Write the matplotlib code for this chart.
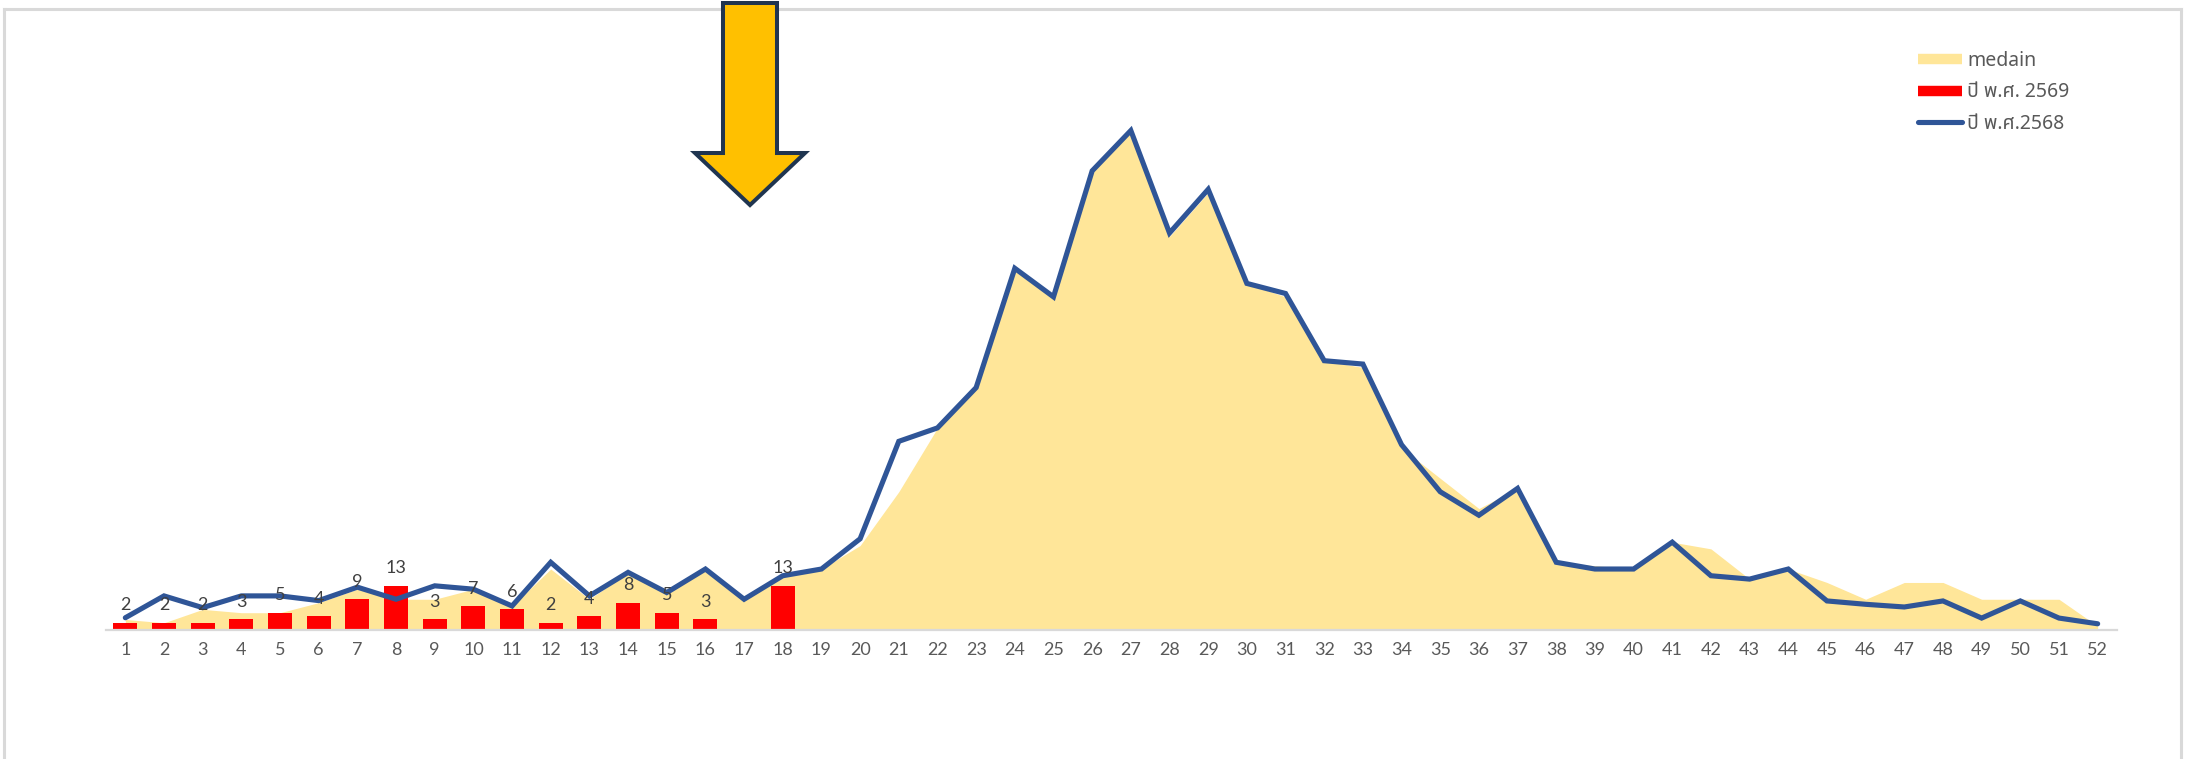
import matplotlib
matplotlib.use("Agg")
import matplotlib.pyplot as plt
import numpy as np
from matplotlib import font_manager as fm
from matplotlib.ft2font import FT2Font
from matplotlib.lines import Line2D
from matplotlib.patches import Polygon

# ---------------- data ----------------
weeks = list(range(1, 53))
median = [3, 2, 6, 5, 5, 8, 12, 9, 9, 12, 7, 18, 9, 17, 11, 18, 9, 16, 18, 25,
          41, 60, 72, 107, 99, 136, 148, 117, 130, 103, 99, 80, 78, 54, 45, 36,
          42, 20, 19, 18, 26, 24, 15, 18, 14, 9, 14, 14, 9, 9, 9, 1]
y2569 = [2, 2, 2, 3, 5, 4, 9, 13, 3, 7, 6, 2, 4, 8, 5, 3, None, 13]
y2568 = [3.5, 10, 6.5, 10, 10, 8.6, 12.6, 9, 13, 12, 7, 20, 10, 17, 11, 18, 9, 16,
         18, 27, 56, 60, 72, 107.5, 99, 136.5, 148.5, 118, 131, 103, 100, 80, 79,
         55, 41, 34, 42, 20, 18, 18, 26, 16, 15, 18, 8.5, 7.5, 6.7, 8.5, 3.4, 8.5,
         3.4, 1.7]
legend_labels = ["medain", "ปี พ.ศ. 2569", "ปี พ.ศ.2568"]

# ---------------- fonts ----------------
def find_thai_font():
    prefs = ["Tahoma", "Leelawadee UI", "Noto Sans Thai", "Noto Sans Thai UI",
             "Loma", "Garuda", "Sarabun", "Noto Serif Thai"]
    found = []
    for f in fm.fontManager.ttflist:
        try:
            ft = FT2Font(f.fname)
            if ft.get_char_index(ord('ป')) and ft.get_char_index(ord('ศ')):
                found.append(f.name)
        except Exception:
            pass
    for p in prefs:
        if p in found:
            return p
    return found[0] if found else None

thai = find_thai_font()
base_font = "Lato"
plt.rcParams['font.family'] = [base_font, 'DejaVu Sans']
leg_family = [thai, 'DejaVu Sans'] if thai else ['DejaVu Sans']

W, H = 2186, 759
fig = plt.figure(figsize=(W / 100, H / 100), dpi=100)
fig.patch.set_facecolor('white')

ax = fig.add_axes([106 / W, (H - 629.5) / H, (2117 - 106) / W, 537.6 / H])
ax.set_xlim(0.5, 52.5)
ax.set_ylim(0, 160)

ax.fill_between(weeks, median, 0, color='#FFE699', lw=0, zorder=1, label=legend_labels[0])

bx = [w for w, v in zip(weeks, y2569) if v is not None]
bv = [v for v in y2569 if v is not None]
ax.bar(bx, bv, width=0.62, color='#FF0000', zorder=2, label=legend_labels[1])

ax.plot(weeks, y2568, color='#2F5597', lw=3.7, zorder=4, solid_capstyle='round',
        solid_joinstyle='miter', label=legend_labels[2])

for w, v in zip(bx, bv):
    ax.annotate(str(int(v)), (w, v), xytext=(0, 12.5), textcoords='offset points',
                ha='center', va='center', fontsize=13, color='#404040', zorder=5)

for s in ['top', 'right', 'left']:
    ax.spines[s].set_visible(False)
ax.spines['bottom'].set_color('#D9D9D9')
ax.spines['bottom'].set_linewidth(1.6)
ax.set_yticks([])
ax.set_xticks(weeks)
ax.set_xticklabels([str(w) for w in weeks])
ax.tick_params(axis='x', length=0, pad=9, labelsize=13, labelcolor='#595959')
ax.set_facecolor('none')

# legend
handles = [Line2D([], [], color='#FFE699', lw=7.5, solid_capstyle='butt'),
           Line2D([], [], color='#FF0000', lw=7.5, solid_capstyle='butt'),
           Line2D([], [], color='#2F5597', lw=3.7, solid_capstyle='round')]
leg = fig.legend(handles, legend_labels, loc='upper left',
                 bbox_to_anchor=(1908 / W, 1 - 41 / H), frameon=False,
                 prop={'family': leg_family, 'size': 14}, labelcolor='#595959',
                 handlelength=2.3, handletextpad=0.25, labelspacing=0.6,
                 borderpad=0)

# arrow annotation
pts = [(723, 3), (777, 3), (777, 153), (805, 153), (750, 205), (695, 153), (723, 153)]
arrow = Polygon([(x / W, 1 - y / H) for x, y in pts], closed=True,
                transform=fig.transFigure, facecolor='#FFC000', edgecolor='#1F3550',
                lw=2.9, joinstyle='miter', zorder=10)
fig.add_artist(arrow)

# outer border (chart area)
bc = '#D9D9D9'
fig.add_artist(Line2D([4 / W, 4 / W], [0, 1 - 9 / H], color=bc, lw=2.2, transform=fig.transFigure))
fig.add_artist(Line2D([4 / W, 2181 / W], [1 - 9 / H, 1 - 9 / H], color=bc, lw=2.2, transform=fig.transFigure))
fig.add_artist(Line2D([2181 / W, 2181 / W], [0, 1 - 9 / H], color=bc, lw=2.2, transform=fig.transFigure))

fig.savefig('out.png', dpi=100, facecolor='white')
